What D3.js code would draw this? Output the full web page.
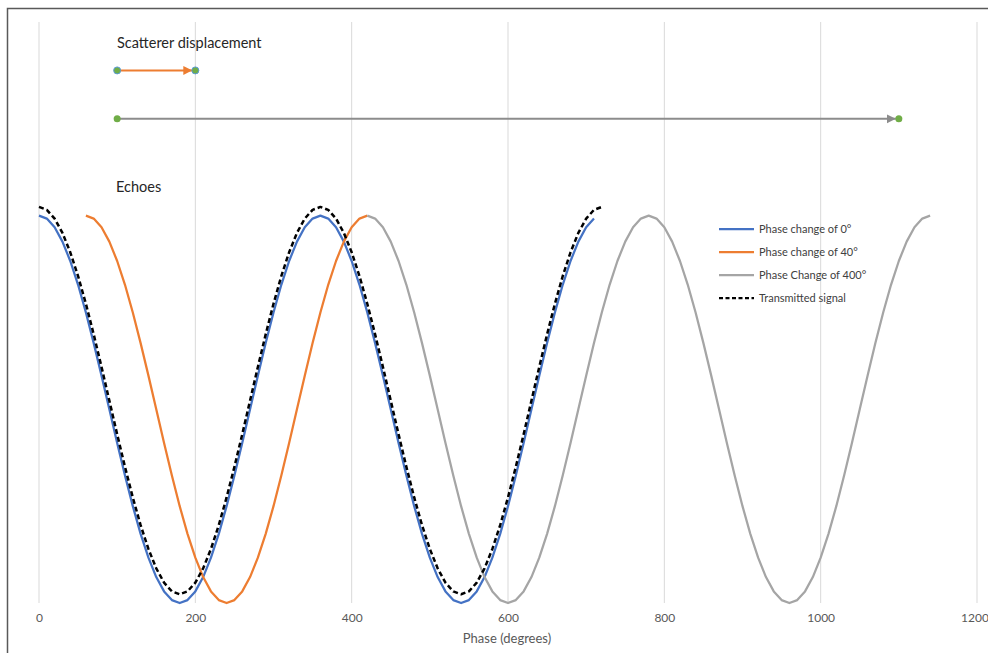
<!DOCTYPE html>
<html>
<head>
<meta charset="utf-8">
<script src="https://cdn.jsdelivr.net/npm/d3@7/dist/d3.min.js"></script>
<style>
  html, body { margin: 0; padding: 0; background: #ffffff; }
  svg { display: block; }
  text { font-family: Lato, "Open Sans", "Liberation Sans", sans-serif; }
</style>
</head>
<body>
<svg id="chart" width="988" height="653"></svg>
<script>
// Phase axis ticks (degrees)
const phaseTicks = [0, 200, 400, 600, 800, 1000, 1200];
const phaseStep = 10;

// Echo amplitudes sampled every 10 degrees
const echo0Start = 0;
const echo0 = [
  1.000, 0.985, 0.940, 0.866, 0.766, 0.643, 0.500, 0.342, 0.174, 0.000,
  -0.174, -0.342, -0.500, -0.643, -0.766, -0.866, -0.940, -0.985, -1.000,
  -0.985, -0.940, -0.866, -0.766, -0.643, -0.500, -0.342, -0.174, 0.000,
  0.174, 0.342, 0.500, 0.643, 0.766, 0.866, 0.940, 0.985,
  1.000, 0.985, 0.940, 0.866, 0.766, 0.643, 0.500, 0.342, 0.174, 0.000,
  -0.174, -0.342, -0.500, -0.643, -0.766, -0.866, -0.940, -0.985, -1.000,
  -0.985, -0.940, -0.866, -0.766, -0.643, -0.500, -0.342, -0.174, 0.000,
  0.174, 0.342, 0.500, 0.643, 0.766, 0.866, 0.940, 0.985
];

const echo40Start = 60;
const echo40 = [
  1.000, 0.985, 0.940, 0.866, 0.766, 0.643, 0.500, 0.342, 0.174, 0.000,
  -0.174, -0.342, -0.500, -0.643, -0.766, -0.866, -0.940, -0.985, -1.000,
  -0.985, -0.940, -0.866, -0.766, -0.643, -0.500, -0.342, -0.174, 0.000,
  0.174, 0.342, 0.500, 0.643, 0.766, 0.866, 0.940, 0.985, 1.000
];

const echo400Start = 420;
const echo400 = [
  1.000, 0.985, 0.940, 0.866, 0.766, 0.643, 0.500, 0.342, 0.174, 0.000,
  -0.174, -0.342, -0.500, -0.643, -0.766, -0.866, -0.940, -0.985, -1.000,
  -0.985, -0.940, -0.866, -0.766, -0.643, -0.500, -0.342, -0.174, 0.000,
  0.174, 0.342, 0.500, 0.643, 0.766, 0.866, 0.940, 0.985,
  1.000, 0.985, 0.940, 0.866, 0.766, 0.643, 0.500, 0.342, 0.174, 0.000,
  -0.174, -0.342, -0.500, -0.643, -0.766, -0.866, -0.940, -0.985, -1.000,
  -0.985, -0.940, -0.866, -0.766, -0.643, -0.500, -0.342, -0.174, 0.000,
  0.174, 0.342, 0.500, 0.643, 0.766, 0.866, 0.940, 0.985, 1.000
];

const transmittedStart = 0;
const transmitted = [
  1.045, 1.030, 0.985, 0.911, 0.811, 0.688, 0.545, 0.387, 0.219, 0.045,
  -0.129, -0.297, -0.455, -0.598, -0.721, -0.821, -0.895, -0.940, -0.955,
  -0.940, -0.895, -0.821, -0.721, -0.598, -0.455, -0.297, -0.129, 0.045,
  0.219, 0.387, 0.545, 0.688, 0.811, 0.911, 0.985, 1.030,
  1.045, 1.030, 0.985, 0.911, 0.811, 0.688, 0.545, 0.387, 0.219, 0.045,
  -0.129, -0.297, -0.455, -0.598, -0.721, -0.821, -0.895, -0.940, -0.955,
  -0.940, -0.895, -0.821, -0.721, -0.598, -0.455, -0.297, -0.129, 0.045,
  0.219, 0.387, 0.545, 0.688, 0.811, 0.911, 0.985, 1.030, 1.045
];

// Scatterer displacement arrows: [from phase, to phase] at a given level
const displacementSmall = { from: 100, to: 200, level: 1.75 };
const displacementLarge = { from: 100, to: 1100, level: 1.5 };

const seriesNames = ["Phase change of 0°", "Phase change of 40°", "Phase Change of 400°", "Transmitted signal"];
const seriesColors = ["#4472c4", "#ed7d31", "#a5a5a5", "#000000"];

const svg = d3.select("#chart");

// Chart frame
svg.append("rect")
  .attr("x", 7.5).attr("y", 8.5)
  .attr("width", 1000).attr("height", 700)
  .attr("fill", "#ffffff")
  .attr("stroke", "#595959")
  .attr("stroke-width", 1.5);

const x = d3.scaleLinear().domain([0, 1200]).range([39, 977]);
const y = d3.scaleLinear().domain([-1, 2]).range([603, 22]);

// Vertical gridlines
svg.append("g").selectAll("line")
  .data(phaseTicks)
  .join("line")
  .attr("x1", d => x(d)).attr("x2", d => x(d))
  .attr("y1", y(2)).attr("y2", y(-1))
  .attr("stroke", "#d9d9d9")
  .attr("stroke-width", 1);

// Phase axis (labels only)
const xAxis = d3.axisBottom(x)
  .tickValues(phaseTicks)
  .tickFormat(d3.format("d"))
  .tickSize(0)
  .tickPadding(10);
const gx = svg.append("g")
  .attr("transform", `translate(0,${y(-1)})`)
  .call(xAxis);
gx.select(".domain").remove();
gx.selectAll("text")
  .attr("fill", "#595959")
  .style("font-size", "12px")
  .style("font-family", "Lato, 'Open Sans', sans-serif");
// keep the last label inside the canvas edge
gx.selectAll(".tick").filter(d => d === 1200).select("text").attr("dx", "-2.5");

svg.append("text")
  .attr("x", 507).attr("y", 643)
  .attr("text-anchor", "middle")
  .attr("fill", "#595959")
  .style("font-size", "13px")
  .text("Phase (degrees)");

// Echo curves
const toPoints = (start, vals) => vals.map((v, i) => [start + i * phaseStep, v]);
const line = d3.line().x(d => x(d[0])).y(d => y(d[1]));

const curves = [
  toPoints(echo0Start, echo0),
  toPoints(echo40Start, echo40),
  toPoints(echo400Start, echo400),
  toPoints(transmittedStart, transmitted)
];

const gc = svg.append("g");
curves.forEach((pts, i) => {
  const p = gc.append("path")
    .attr("d", line(pts))
    .attr("fill", "none")
    .attr("stroke", seriesColors[i])
    .attr("stroke-width", i === 3 ? 2.5 : 2.25)
    .attr("stroke-linejoin", "round");
  if (i === 3) p.attr("stroke-dasharray", "5,3");
});

// Displacement arrows
const defs = svg.append("defs");
function arrowMarker(id, color) {
  defs.append("marker")
    .attr("id", id)
    .attr("viewBox", "0 0 10 10")
    .attr("refX", 10).attr("refY", 5)
    .attr("markerUnits", "userSpaceOnUse")
    .attr("markerWidth", 9).attr("markerHeight", 12)
    .attr("orient", "auto")
    .append("path")
    .attr("d", "M0,0 L10,5 L0,10 Z")
    .attr("fill", color);
}
arrowMarker("head-orange", "#ed7d31");
arrowMarker("head-gray", "#8c8c8c");

function drawArrow(d, color, markerId, dotStroke) {
  const g = svg.append("g");
  g.append("line")
    .attr("x1", x(d.from)).attr("x2", x(d.to) - 3)
    .attr("y1", y(d.level)).attr("y2", y(d.level))
    .attr("stroke", color)
    .attr("stroke-width", 2)
    .attr("marker-end", `url(#${markerId})`);
  g.selectAll("circle")
    .data([d.from, d.to])
    .join("circle")
    .attr("cx", v => x(v)).attr("cy", y(d.level))
    .attr("r", 3.5)
    .attr("fill", "#70ad47")
    .attr("stroke", dotStroke)
    .attr("stroke-width", dotStroke === "none" ? 0 : 1);
}
drawArrow(displacementSmall, "#ed7d31", "head-orange", "#5b9bd5");
drawArrow(displacementLarge, "#8c8c8c", "head-gray", "none");

// Annotations
svg.append("text")
  .attr("x", 117).attr("y", 48)
  .attr("fill", "#262626")
  .style("font-size", "14.5px")
  .text("Scatterer displacement");

svg.append("text")
  .attr("x", 116).attr("y", 192)
  .attr("fill", "#262626")
  .style("font-size", "14.5px")
  .text("Echoes");

// Legend
const legend = svg.append("g").attr("transform", "translate(719,229)");
seriesNames.forEach((name, i) => {
  const row = legend.append("g").attr("transform", `translate(0,${i * 23})`);
  const l = row.append("line")
    .attr("x1", 0).attr("x2", 35)
    .attr("y1", 0).attr("y2", 0)
    .attr("stroke", seriesColors[i])
    .attr("stroke-width", 2.25);
  if (i === 3) l.attr("stroke-dasharray", "4,2.5");
  row.append("text")
    .attr("x", 40).attr("y", 4)
    .attr("fill", "#404040")
    .style("font-size", "11px")
    .text(name);
});
</script>
</body>
</html>
